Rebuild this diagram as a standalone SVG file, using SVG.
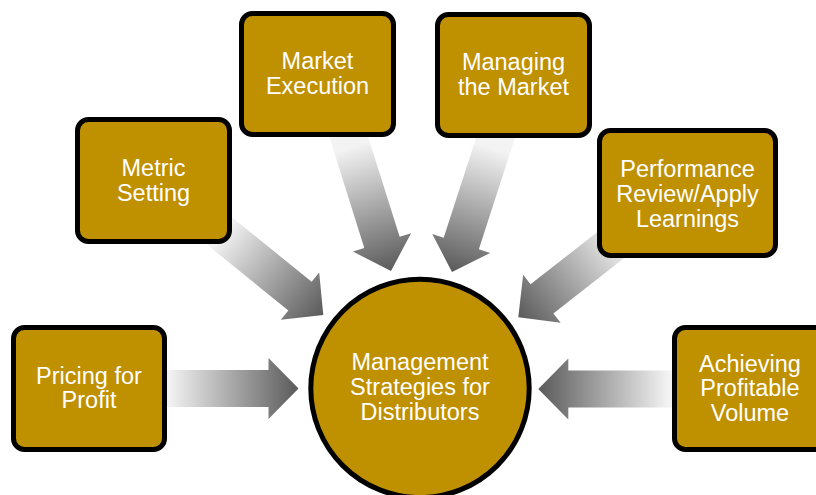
<svg xmlns="http://www.w3.org/2000/svg" width="816" height="495" viewBox="0 0 816 495">
  <style>
    .box { fill: #BF9000; stroke: #000; stroke-width: 5; }
    .hub { fill: #BF9000; stroke: #000; stroke-width: 5; }
    .lbl { fill: #fff; font-family: "Liberation Sans", Arial, sans-serif; font-size: 23.5px; text-anchor: middle; }
    .arrow { fill: url(#shade); }
  </style>
  <defs>
    <!-- light at the source end, dark toward the tip (local coords: tip at 0,0 pointing +x) -->
    <linearGradient id="shade" gradientUnits="userSpaceOnUse" x1="-130" y1="0" x2="0" y2="0">
      <stop offset="0" stop-color="#f3f3f3"/>
      <stop offset="1" stop-color="#5a5a5a"/>
    </linearGradient>
    <path id="blockArrow" d="M -160 -18.5 L -30 -18.5 L -30 -30.5 L 0 0 L -30 30.5 L -30 18.5 L -160 18.5 Z"/>
  </defs>

  <rect width="816" height="495" fill="#fff"/>

  <g id="connectors">
    <use href="#blockArrow" class="arrow" transform="translate(298.5 388.5)"/>
    <use href="#blockArrow" class="arrow" transform="translate(323.3 315) rotate(39)"/>
    <use href="#blockArrow" class="arrow" transform="translate(391 271) rotate(72.5)"/>
    <use href="#blockArrow" class="arrow" transform="translate(452 272) rotate(108)"/>
    <use href="#blockArrow" class="arrow" transform="translate(518.3 317.3) rotate(142)"/>
    <use href="#blockArrow" class="arrow" transform="translate(538.3 389) rotate(180)"/>
  </g>

  <g id="hub">
    <circle class="hub" cx="420" cy="388.4" r="109.2"/>
    <text class="lbl" x="420" y="370">Management</text>
    <text class="lbl" x="420" y="395">Strategies for</text>
    <text class="lbl" x="420" y="420">Distributors</text>
  </g>

  <g id="pricing">
    <rect class="box" x="13.5" y="327.5" width="151" height="122" rx="11"/>
    <text class="lbl" x="89" y="384">Pricing for</text>
    <text class="lbl" x="89" y="408">Profit</text>
  </g>

  <g id="metric">
    <rect class="box" x="77.5" y="119.5" width="152" height="122" rx="11"/>
    <text class="lbl" x="153.5" y="176">Metric</text>
    <text class="lbl" x="153.5" y="200.5">Setting</text>
  </g>

  <g id="execution">
    <rect class="box" x="241.5" y="13.5" width="152" height="121" rx="11"/>
    <text class="lbl" x="317.5" y="69">Market</text>
    <text class="lbl" x="317.5" y="94">Execution</text>
  </g>

  <g id="managing">
    <rect class="box" x="437.5" y="14.5" width="152" height="121" rx="11"/>
    <text class="lbl" x="513.5" y="70">Managing</text>
    <text class="lbl" x="513.5" y="95">the Market</text>
  </g>

  <g id="performance">
    <rect class="box" x="599.5" y="130.5" width="176" height="125" rx="11"/>
    <text class="lbl" x="687.5" y="176.7">Performance</text>
    <text class="lbl" x="687.5" y="201.7">Review/Apply</text>
    <text class="lbl" x="687.5" y="226.7">Learnings</text>
  </g>

  <g id="volume">
    <rect class="box" x="674.5" y="327.5" width="152" height="122" rx="11"/>
    <text class="lbl" x="750" y="371.5">Achieving</text>
    <text class="lbl" x="750" y="396">Profitable</text>
    <text class="lbl" x="750" y="420.5">Volume</text>
  </g>
</svg>
